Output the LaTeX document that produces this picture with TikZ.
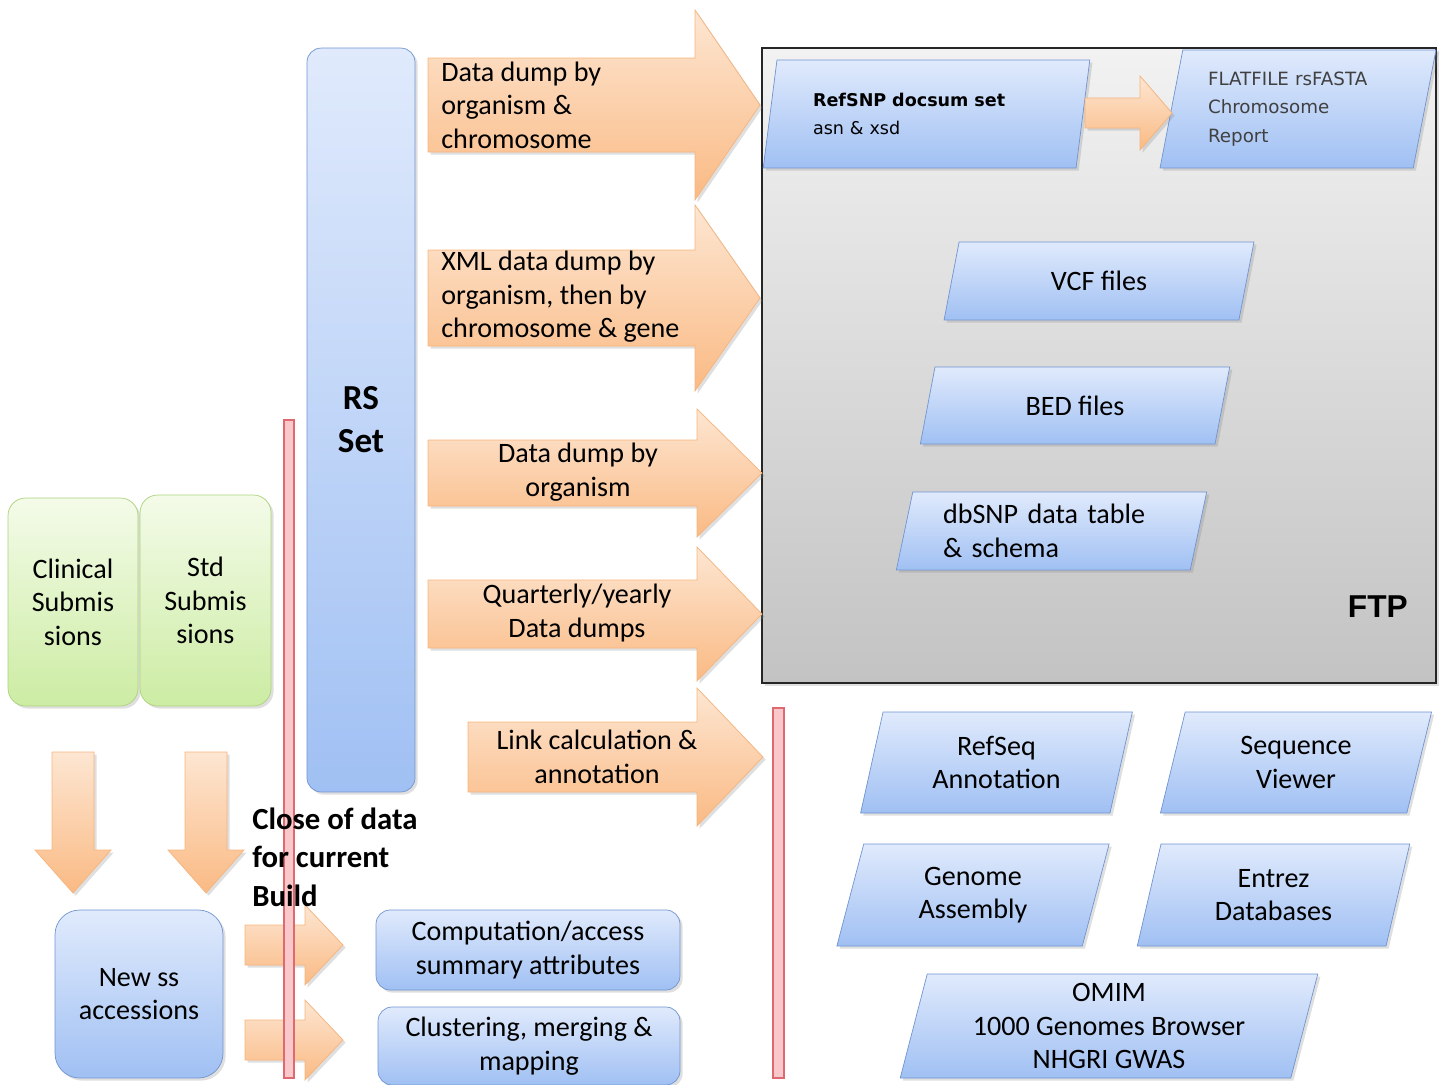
\documentclass[tikz,border=0pt]{standalone}
\usepackage{fontspec}
\setmainfont{Carlito}
\newfontfamily\verdanafont{DejaVu Sans}
\newfontfamily\arialfont{Liberation Sans}
\usetikzlibrary{shapes.geometric,shadows,positioning}
\definecolor{bluetop}{RGB}{224,234,252}
\definecolor{bluebot}{RGB}{160,192,243}
\definecolor{blueline}{RGB}{112,148,208}
\definecolor{orangetop}{RGB}{253,230,210}
\definecolor{orangebot}{RGB}{250,186,132}
\definecolor{orangeline}{RGB}{246,180,125}
\definecolor{greentop}{RGB}{244,251,233}
\definecolor{greenbot}{RGB}{204,236,163}
\definecolor{greenline}{RGB}{172,210,122}
\definecolor{ftptop}{RGB}{242,242,242}
\definecolor{ftpbot}{RGB}{195,195,195}
\definecolor{pinkfill}{RGB}{248,200,202}
\definecolor{pinkline}{RGB}{222,105,112}
% block arrows: left x, neck x, tip x, mid y, body half, head half
\newcommand{\rarrow}[6]{\path[blockarrow] (#1,#4-#5) -- (#2,#4-#5) -- (#2,#4-#6) -- (#3,#4)
  -- (#2,#4+#6) -- (#2,#4+#5) -- (#1,#4+#5) -- cycle;}
% mid x, top y, neck y, tip y, body half, head half
\newcommand{\darrow}[6]{\path[blockarrow] (#1-#5,#2) -- (#1+#5,#2) -- (#1+#5,#3) -- (#1+#6,#3)
  -- (#1,#4) -- (#1-#6,#3) -- (#1-#5,#3) -- cycle;}

\begin{document}
\begin{tikzpicture}[x=0.02cm, y=-0.02cm, every node/.style={font=\fontsize{16}{19}\selectfont},
  shd/.style={drop shadow={opacity=0.25, shadow xshift=1.5pt, shadow yshift=-1.5pt}},
  bluebox/.style={rounded corners=8pt, draw=blueline, top color=bluetop, bottom color=bluebot, align=center, shd},
  greenbox/.style={rounded corners=10pt, draw=greenline, top color=greentop, bottom color=greenbot, align=center, shd},
  para/.style={trapezium, trapezium left angle=77, trapezium right angle=103, trapezium stretches=true,
    draw=blueline, top color=bluetop, bottom color=bluebot, align=center, inner sep=1pt, shd},
  blockarrow/.style={draw=orangeline, top color=orangetop, bottom color=orangebot, shd},
  arrowtxt/.style={inner sep=0pt, align=center},
  pinkbar/.style={draw=pinkline, fill=pinkfill, line width=0.8pt}]
\useasboundingbox (0,0) rectangle (1440,1085);

% FTP area
\node[draw=black!85, line width=0.9pt, top color=ftptop, bottom color=ftpbot, shd,
  minimum width=13.48cm, minimum height=12.7cm] (ftp) at (1099,365.5) {};
\node[font=\arialfont\fontsize{18}{20}\selectfont\bfseries, anchor=base east, inner sep=0pt]
  (ftplbl) at (1408,617) {FTP};

\node[para, minimum width=6.54cm, minimum height=2.16cm, text width=4.54cm, align=left,
  font=\verdanafont\fontsize{10}{16.4}\selectfont] (refsnp) at (926.5,114) {\textbf{RefSNP docsum set}\\asn \& xsd};
\node[para, minimum width=5.52cm, minimum height=2.36cm, text width=3.6cm, align=left,
  font=\verdanafont\fontsize{10.4}{16.4}\selectfont, text=black!75] (flat) at (1298,109) {FLATFILE rsFASTA\\Chromosome\\Report};
\rarrow{1085}{1140}{1172}{113}{15}{37}
\node[para, minimum width=6.24cm, minimum height=1.56cm] (vcf) at (1099,281) {VCF files};
\node[para, minimum width=6.2cm, minimum height=1.54cm] (bed) at (1075,405.5) {BED files};
\node[para, minimum width=6.22cm, minimum height=1.56cm, text width=4.34cm, align=left] (dbsnp) at (1051.5,531) {dbSNP data table\\\& schema};

% outside FTP
\node[para, minimum width=5.46cm, minimum height=2.02cm] (refseq) at (996.5,762.5) {RefSeq\\Annotation};
\node[para, minimum width=5.44cm, minimum height=2.02cm] (seqview) at (1296,762.5) {Sequence\\Viewer};
\node[para, minimum width=5.48cm, minimum height=2.04cm] (genome) at (973,895) {Genome\\Assembly};
\node[para, minimum width=5.46cm, minimum height=2.04cm] (entrez) at (1273.5,895) {Entrez\\Databases};
\node[para, minimum width=8.36cm, minimum height=2.08cm] (omim) at (1109,1026) {OMIM\\1000 Genomes Browser\\NHGRI GWAS};

% RS set and dumps
\node[bluebox, minimum width=2.16cm, minimum height=14.88cm, font=\fontsize{20}{24.5}\selectfont\bfseries] (rsset) at (361,420) {RS\\Set};
\rarrow{428}{695}{760}{105}{47}{95}
\rarrow{428}{695}{760}{298}{48}{93}
\rarrow{428}{697}{762}{473}{33}{64}
\rarrow{428}{697}{762}{614}{34}{67}
\rarrow{468}{697}{763}{757}{35}{69}
\node[arrowtxt, anchor=west, align=left] (dump1) at (441,105) {Data dump by\\organism \&\\chromosome};
\node[arrowtxt, anchor=west, align=left] (dump2) at (441,297) {XML data dump by\\organism, then by\\chromosome \& gene};
\node[arrowtxt] (dump3) at (578,472) {Data dump by\\organism};
\node[arrowtxt] (dump4) at (577,613) {Quarterly/yearly\\Data dumps};
\node[arrowtxt] (link) at (597,757) {Link calculation \&\\annotation};

% submissions
\node[greenbox, minimum width=2.6cm, minimum height=4.16cm] (clin) at (73,602) {Clinical\\Submis\\sions};
\node[greenbox, minimum width=2.62cm, minimum height=4.22cm] (std) at (205.5,600.5) {Std\\Submis\\sions};
\darrow{73}{752}{850}{893}{21}{38}
\darrow{206}{752}{850}{893}{21}{38}
\node[bluebox, rounded corners=14pt, minimum width=3.36cm, minimum height=3.36cm] (newss) at (139,994) {New ss\\accessions};
\rarrow{245}{305}{343}{945}{20}{40}
\rarrow{245}{305}{343}{1040}{20}{40}
\node[bluebox, minimum width=6.08cm, minimum height=1.6cm] (comp) at (528,950) {Computation/access\\summary attributes};
\node[bluebox, minimum width=6.04cm, minimum height=1.56cm] (clus) at (529,1046) {Clustering, merging \&\\mapping};

% build cut-off bars
\draw[pinkbar] (284,420) rectangle (294,1078);
\draw[pinkbar] (773,708) rectangle (784,1078);
\node[anchor=west, align=left, inner sep=0pt, font=\fontsize{17.5}{22}\selectfont\bfseries] (close) at (252,857) {Close of data\\for current\\Build};
\end{tikzpicture}
\end{document}
